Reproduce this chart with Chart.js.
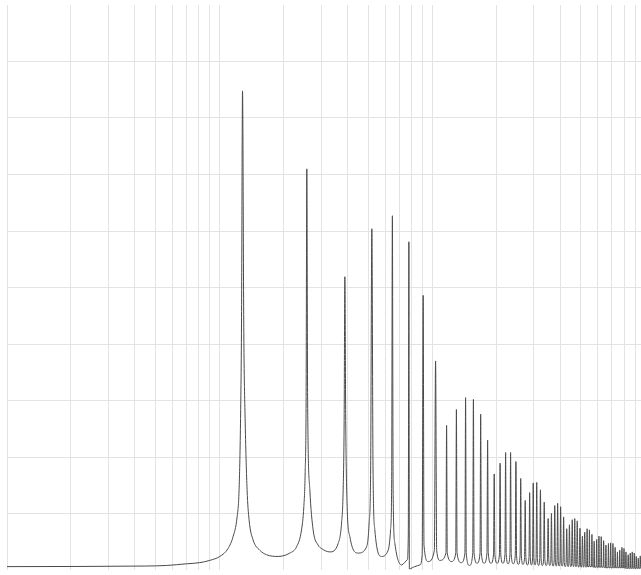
<!DOCTYPE html>
<html>
<head>
<meta charset="utf-8">
<script src="https://cdn.jsdelivr.net/npm/chart.js@4/dist/chart.umd.min.js"></script>
<style>
  html, body { margin: 0; padding: 0; background: #ffffff; }
  #wrap { width: 641px; height: 575px; }
</style>
</head>
<body>
<div id="wrap"><canvas id="c" width="641" height="575"></canvas></div>
<script>
// Vertical grid positions (log x axis, Hz)
const gridHz = [1,2,3,4,5,6,7,8,9,10,20,30,40,50,60,70,80,90,100,200,300,400,500,600,700,800,900];
const xMin = 1, xMax = 960;
const yMin = 0, yMax = 10, yStep = 1;

// Low-frequency part of the response, traced point by point (Hz, level)
const curveHz = [1, 4.45, 5.63, 6.99, 8.07, 8.99, 10.02, 10.96, 11.57, 12.09, 12.35, 12.54, 12.68, 12.82, 13.0, 13.2, 13.47, 13.76, 14.38, 15.46, 16.62, 18.85,
  21.4, 23.01, 24.29, 24.9, 25.26, 25.53, 25.72, 25.95, 26.58, 27.54, 29.08, 30.17, 33.01,
  36.12, 37.47, 38.13, 38.54, 38.84, 39.2, 39.81, 41.0, 44.86,
  49.13, 50.52, 51.35, 52.02, 52.7, 53.74, 57.8,
  62.08, 63.72, 64.5, 64.98, 65.5, 66.76, 71.78,
  76.28, 77.2, 77.7, 78.1, 82.9, 87.5, 89.74, 90.7, 91.5, 95.8, 102.4, 103.75, 105.0, 108.7];
const curveLevel = [0.06, 0.07, 0.08, 0.11, 0.13, 0.17, 0.24, 0.38, 0.59, 0.94, 1.42, 2.6, 4.37, 8.48, 4.2, 2.6, 1.42, 0.89, 0.53, 0.35, 0.27, 0.24,
  0.30, 0.41, 0.71, 1.12, 1.72, 3.07, 7.10, 3.0, 1.42, 0.71, 0.44, 0.38, 0.32,
  0.47, 0.83, 1.42, 2.65, 5.19, 2.65, 1.12, 0.59, 0.30,
  0.41, 0.83, 1.77, 6.04, 1.77, 0.71, 0.24,
  0.35, 0.71, 1.6, 6.27, 1.42, 0.47, 0.09,
  0.18, 0.6, 5.81, 0.02, 0.06, 0.09, 0.27, 4.86, 0.44, 0.15, 0.35, 3.70, 0.35, 0.17];

// Tops of the dense resonance comb (Hz, level)
const peakHz = [116.9, 130.0, 143.6, 156.3, 169.1, 182.3, 195.8, 208.7, 221.5, 233.8, 247.7, 260.9,
  273.9, 287.4, 298.8, 310.3, 323.0, 336.6, 351.1, 363.9, 377.2, 389.2, 402.0, 415.3, 429.4, 442.2,
  455.8, 468.4, 481.2, 495.5, 509.1, 521.9, 535.6, 549.2, 564.2, 577.9, 593.7, 608.7, 624.0, 640.5,
  656.6, 674.7, 690.9, 708.4, 725.4, 743.7, 762.5, 780.8, 798.2, 815.6, 835.4, 854.6, 873.3, 892.4,
  912.0, 932.0, 952.4];
const peakLevel = [2.56, 2.84, 3.05, 3.02, 2.76, 2.30, 1.70, 1.89, 2.08, 2.08, 1.92, 1.62,
  1.23, 1.37, 1.54, 1.55, 1.42, 1.20, 0.91, 1.00, 1.14, 1.18, 1.12, 0.94, 0.73, 0.80,
  0.89, 0.91, 0.87, 0.74, 0.60, 0.67, 0.73, 0.71, 0.63, 0.51, 0.54, 0.60, 0.59, 0.52,
  0.44, 0.47, 0.48, 0.47, 0.40, 0.32, 0.35, 0.40, 0.38, 0.32, 0.27, 0.30, 0.32, 0.30,
  0.24, 0.21, 0.25];

// Feet and troughs between the comb peaks (Hz, level)
const footHz = [116.1, 117.7, 123.4, 129.1, 130.9, 136.9, 142.6, 144.6, 149.7, 155.2, 157.4, 162.6,
  167.9, 170.3, 175.6, 181.0, 183.6, 189.0, 194.4, 197.2, 202.1, 207.2, 210.2, 215.0,
  220.0, 223.0, 227.6, 232.2, 235.4, 240.7, 246.0, 249.4, 254.2, 259.1, 262.7, 267.3,
  272.0, 275.8, 280.6, 285.4, 289.4, 293.1, 296.7, 300.9, 304.5, 308.1, 312.5, 316.6,
  320.7, 325.3, 329.7, 334.2, 339.0, 343.8, 348.6, 353.6, 357.4, 361.4, 366.4, 370.5,
  374.6, 379.8, 383.2, 386.5, 391.9, 395.5, 399.2, 404.8, 408.6, 412.4, 418.2, 422.3,
  426.4, 432.4, 435.8, 439.1, 445.3, 449.0, 452.6, 459.0, 462.1, 465.1, 471.7, 474.8,
  477.8, 484.6, 488.3, 492.0, 499.0, 502.3, 505.5, 512.7, 515.5, 518.2, 525.6, 528.7,
  533.0, 538.3, 546.5, 551.9, 561.4, 567.0, 575.0, 580.8, 590.7, 596.7, 605.7, 611.7,
  620.9, 627.1, 637.3, 643.7, 653.3, 659.9, 671.3, 678.1, 687.4, 694.4, 704.9, 711.9,
  721.8, 729.0, 740.0, 747.4, 758.7, 766.3, 776.9, 784.7, 794.2, 802.2, 811.5, 819.7,
  831.2, 839.6, 850.3, 858.9, 868.9, 877.7, 887.9, 896.9, 907.4, 916.6, 927.3, 936.7,
  947.6, 957.2, 960];
const footLevel = [0.30, 0.30, 0.15, 0.30, 0.30, 0.13, 0.30, 0.30, 0.08, 0.30, 0.30, 0.12,
  0.30, 0.30, 0.12, 0.30, 0.30, 0.12, 0.28, 0.28, 0.12, 0.28, 0.28, 0.12,
  0.28, 0.28, 0.11, 0.28, 0.28, 0.11, 0.26, 0.26, 0.10, 0.26, 0.26, 0.10,
  0.22, 0.22, 0.09, 0.22, 0.22, 0.09, 0.22, 0.22, 0.09, 0.20, 0.20, 0.08,
  0.20, 0.20, 0.08, 0.18, 0.18, 0.08, 0.18, 0.18, 0.08, 0.16, 0.16, 0.07,
  0.16, 0.16, 0.07, 0.15, 0.15, 0.07, 0.14, 0.14, 0.07, 0.13, 0.13, 0.06,
  0.12, 0.12, 0.06, 0.12, 0.12, 0.06, 0.11, 0.11, 0.06, 0.10, 0.10, 0.06,
  0.10, 0.10, 0.05, 0.09, 0.09, 0.05, 0.09, 0.09, 0.05, 0.08, 0.08, 0.05,
  0.06, 0.06, 0.06, 0.06, 0.06, 0.06, 0.05, 0.05, 0.05, 0.05, 0.05, 0.05,
  0.05, 0.05, 0.05, 0.05, 0.04, 0.04, 0.04, 0.04, 0.04, 0.04, 0.04, 0.04,
  0.04, 0.04, 0.04, 0.04, 0.04, 0.04, 0.04, 0.04, 0.04, 0.04, 0.03, 0.03,
  0.03, 0.03, 0.03, 0.03, 0.03, 0.03, 0.03, 0.03, 0.03, 0.03, 0.03, 0.03,
  0.03, 0.03, 0.03];

const pts = [];
curveHz.forEach((x, i) => pts.push({ x, y: curveLevel[i] }));
peakHz.forEach((x, i) => pts.push({ x, y: peakLevel[i] }));
footHz.forEach((x, i) => pts.push({ x, y: footLevel[i] }));
pts.sort((a, b) => a.x - b.x);

const gridColor = '#e3e3e3';

new Chart(document.getElementById('c'), {
  type: 'line',
  data: {
    datasets: [{
      data: pts,
      borderColor: '#4a4a4a',
      borderWidth: 1,
      pointRadius: 0,
      cubicInterpolationMode: 'monotone',
      fill: false
    }]
  },
  options: {
    responsive: false,
    animation: false,
    devicePixelRatio: 1,
    layout: { padding: { left: 7, top: 5, right: 0, bottom: 5 } },
    plugins: { legend: { display: false }, tooltip: { enabled: false } },
    scales: {
      x: {
        type: 'logarithmic',
        min: xMin,
        max: xMax,
        afterBuildTicks: (axis) => { axis.ticks = gridHz.map(v => ({ value: v })); },
        ticks: { display: false },
        grid: { color: gridColor, lineWidth: 1, drawTicks: false },
        border: { display: false }
      },
      y: {
        type: 'linear',
        min: yMin,
        max: yMax,
        ticks: { display: false, stepSize: yStep },
        grid: {
          color: (ctx) => (ctx.tick && (ctx.tick.value === yMin || ctx.tick.value === yMax)) ? 'rgba(0,0,0,0)' : gridColor,
          lineWidth: 1,
          drawTicks: false
        },
        border: { display: false }
      }
    }
  }
});
</script>
</body>
</html>
